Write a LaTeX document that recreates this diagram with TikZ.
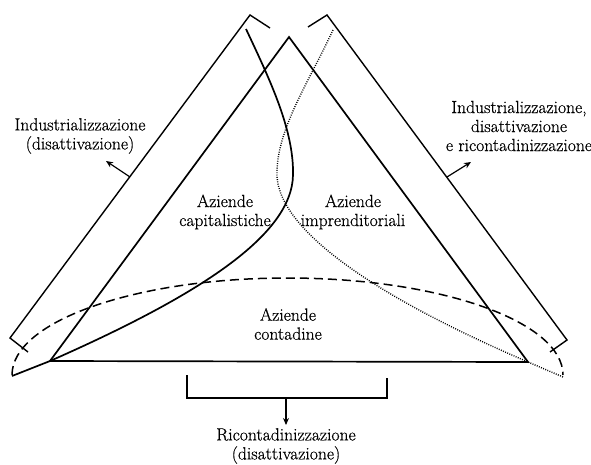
\documentclass[tikz,border=0pt]{standalone}
\usepackage{fontspec}
\newfontfamily\lblfont{Latin Modern Roman}[FakeBold=0.5]
\usetikzlibrary{arrows.meta}
\begin{document}
\begin{tikzpicture}[x=1pt,y=1pt,
  ln/.style={line width=1.7pt, line join=miter},
  thin/.style={line width=1.4pt},
  dashline/.style={line width=1.5pt, dash pattern=on 9pt off 5pt},
  dotline/.style={line width=1.4pt, dash pattern=on 0.9pt off 1.4pt},
  arr/.style={line width=1.2pt, -{Stealth[length=7pt,width=6pt]}},
  lbl/.style={font=\lblfont\fontsize{17.6}{19}\selectfont, align=center, inner sep=0pt}]
\useasboundingbox (0,0) rectangle (591,-464);
% triangle
\coordinate (A) at (289,-37);
\coordinate (B) at (50,-361);
\coordinate (C) at (528,-362);
\draw[ln] (A) -- (B) -- (C) -- cycle;
% left bracket
\coordinate (L1) at (270,-28);
\coordinate (L2) at (250,-15);
\coordinate (L3) at (10,-338);
\coordinate (L4) at (28,-352);
\draw[thin] (L1) -- (L2) -- (L3) -- (L4);
% right bracket
\coordinate (R1) at (308,-27);
\coordinate (R2) at (327,-15);
\coordinate (R3) at (567,-340);
\coordinate (R4) at (550,-352);
\draw[thin] (R1) -- (R2) -- (R3) -- (R4);
% bottom bracket
\coordinate (D1) at (187,-375);
\coordinate (D2) at (187,-398);
\coordinate (D3) at (387,-398);
\coordinate (D4) at (387,-378);
\coordinate (Dm) at (286,-398);
\draw[thin] (D1) -- (D2) -- (D3) -- (D4);
% dashed half ellipse
\coordinate (E0) at (12,-375);
\draw[dashline] (E0) arc[start angle=180, end angle=0, x radius=275.5pt, y radius=97pt];
% solid curve
\coordinate (S0) at (246,-29);
\coordinate (S1) at (293,-175);
\coordinate (S2) at (12,-376);
\draw[ln] (S0) .. controls (270,-80) and (294,-130) .. (S1)
  .. controls (292,-235) and (200,-295) .. (B) -- (S2);
% dotted curve
\coordinate (P0) at (333,-30);
\coordinate (P1) at (277,-175);
\coordinate (P2) at (563,-377);
\draw[dotline] (P0) .. controls (310,-80) and (276,-130) .. (P1)
  .. controls (278,-225) and (360,-290) .. (C) -- (P2);
% labels
\node[lbl] (tl) at (80,-136) {Industrializzazione\\(disattivazione)};
\node[lbl] (tr) at (519,-126) {Industrializzazione,\\disattivazione\\e ricontadinizzazione};
\node[lbl] (tb) at (286,-446) {Ricontadinizzazione\\(disattivazione)};
\node[lbl] (cap) at (225,-212) {Aziende\\capitalistiche};
\node[lbl] (imp) at (353,-212) {Aziende\\imprenditoriali};
\node[lbl] (con) at (288,-324) {Aziende\\contadine};
% arrows
\coordinate (la) at (130,-177);
\coordinate (lb) at (106,-161);
\coordinate (ra) at (447,-177);
\coordinate (rb) at (471,-162);
\coordinate (bb) at (286,-425);
\draw[arr] (la) -- (lb);
\draw[arr] (ra) -- (rb);
\draw[arr] (Dm) -- (bb);
\end{tikzpicture}
\end{document}
